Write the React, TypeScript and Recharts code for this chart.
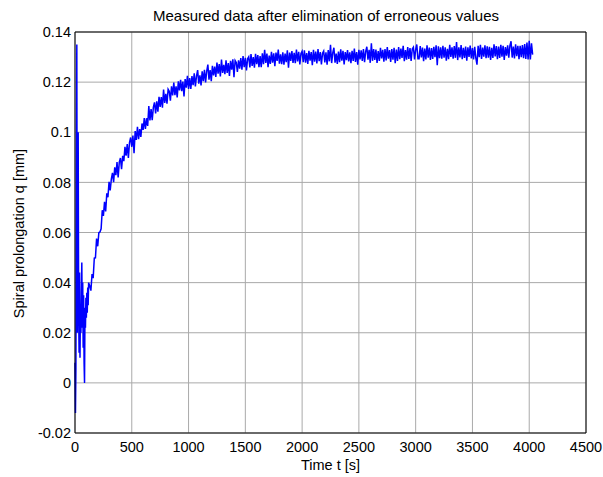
import { CartesianGrid, Line, LineChart, ReferenceLine, XAxis, YAxis } from "recharts"

// Sampling of the measured signal
const START_STEP = 4 // s, first 120 s (disturbed start)
const MAIN_START = 130 // s
const MAIN_STEP = 10 // s

// q [mm] for t = 0, 4, ..., 120 s
const startSamples = [
  0.008, -0.012, 0.006, 0.09, 0.135, 0.02, 0.06, 0.1, 0.03, 0.012, 0.044, 0.01, 0.03, 0.02, 0.036, 0.048,
  0.022, 0.04, 0.014, 0.035, 0.008, 0.0, 0.03, 0.022, 0.034, 0.026, 0.036, 0.028, 0.038, 0.031, 0.04,
]

// q [mm] for t = 130, 140, ..., 4030 s (one row = 100 s)
const mainSamples = [
  0.0387, 0.0368, 0.0434, 0.0418, 0.0498, 0.0499, 0.0576, 0.0545, 0.0599, 0.0602,
  0.0615, 0.0689, 0.0666, 0.0722, 0.0684, 0.0756, 0.0741, 0.0802, 0.0768, 0.0813,
  0.0838, 0.0801, 0.086, 0.0829, 0.0881, 0.082, 0.0881, 0.0897, 0.0853, 0.0906,
  0.0885, 0.0942, 0.0907, 0.0953, 0.0897, 0.0959, 0.0979, 0.0942, 0.0987, 0.0916,
  0.1005, 0.0969, 0.1022, 0.0972, 0.1013, 0.0981, 0.1035, 0.1009, 0.1057, 0.1013,
  0.1056, 0.1025, 0.1105, 0.1047, 0.1092, 0.1048, 0.1099, 0.1119, 0.1075, 0.1123,
  0.1082, 0.1141, 0.1101, 0.114, 0.1098, 0.117, 0.1117, 0.1153, 0.1114, 0.1172,
  0.1164, 0.1126, 0.1183, 0.1147, 0.1198, 0.1148, 0.1183, 0.1139, 0.1203, 0.1167,
  0.1209, 0.1164, 0.1202, 0.1143, 0.1212, 0.1178, 0.1225, 0.1173, 0.1216, 0.1173,
  0.1224, 0.1188, 0.1235, 0.1183, 0.1224, 0.1248, 0.1194, 0.1227, 0.1187, 0.1243,
  0.1204, 0.1249, 0.1199, 0.1244, 0.127, 0.121, 0.1248, 0.1204, 0.1265, 0.1227,
  0.1262, 0.1221, 0.1278, 0.1234, 0.1272, 0.1223, 0.129, 0.1237, 0.1269, 0.1232,
  0.1287, 0.1237, 0.1276, 0.1225, 0.1285, 0.125, 0.1291, 0.122, 0.1286, 0.1278,
  0.1241, 0.1287, 0.1254, 0.1296, 0.125, 0.1304, 0.126, 0.1297, 0.1247, 0.1293,
  0.1301, 0.1259, 0.1312, 0.1265, 0.13, 0.1258, 0.1313, 0.1272, 0.1308, 0.126,
  0.1304, 0.126, 0.1315, 0.1272, 0.1329, 0.1277, 0.1314, 0.126, 0.1306, 0.1273,
  0.1321, 0.1278, 0.1315, 0.1264, 0.1318, 0.1285, 0.133, 0.1274, 0.1311, 0.1272,
  0.1319, 0.127, 0.1314, 0.128, 0.1327, 0.1258, 0.1318, 0.1285, 0.1324, 0.1277,
  0.1317, 0.1276, 0.133, 0.1283, 0.1321, 0.1271, 0.1314, 0.1323, 0.128, 0.1327,
  0.1278, 0.1316, 0.1273, 0.1325, 0.1286, 0.132, 0.1268, 0.1329, 0.1282, 0.1322,
  0.1275, 0.1332, 0.1284, 0.132, 0.1271, 0.1315, 0.1324, 0.1279, 0.1319, 0.127,
  0.1328, 0.1283, 0.1349, 0.1276, 0.1317, 0.1337, 0.1278, 0.1314, 0.1273, 0.1322,
  0.128, 0.1331, 0.1286, 0.1325, 0.1271, 0.132, 0.1288, 0.1328, 0.1283, 0.1319,
  0.1276, 0.1325, 0.1285, 0.1334, 0.1281, 0.132, 0.127, 0.1329, 0.1291, 0.1327,
  0.1285, 0.1332, 0.128, 0.1323, 0.1341, 0.129, 0.1329, 0.1277, 0.1355, 0.1285,
  0.1332, 0.1289, 0.133, 0.1277, 0.1324, 0.1285, 0.1337, 0.1295, 0.1329, 0.1282,
  0.1332, 0.1287, 0.134, 0.1294, 0.1328, 0.1281, 0.1332, 0.129, 0.1337, 0.1276,
  0.133, 0.1285, 0.134, 0.1292, 0.1334, 0.1297, 0.1345, 0.1284, 0.1328, 0.129,
  0.134, 0.1293, 0.1336, 0.1285, 0.1332, 0.1339, 0.1291, 0.133, 0.135, 0.1293,
  0.1293, 0.1344, 0.1299, 0.1338, 0.1284, 0.1334, 0.1291, 0.1347, 0.1298, 0.1338,
  0.1289, 0.1336, 0.1293, 0.1341, 0.13, 0.1347, 0.1268, 0.1343, 0.1296, 0.1339,
  0.1294, 0.1345, 0.1298, 0.1339, 0.1286, 0.1333, 0.1292, 0.1349, 0.1301, 0.1339,
  0.1294, 0.1344, 0.1297, 0.136, 0.1288, 0.1339, 0.1299, 0.1348, 0.1292, 0.1337,
  0.1297, 0.1342, 0.1286, 0.1339, 0.1301, 0.1346, 0.1295, 0.1336, 0.1291, 0.1341,
  0.1296, 0.127, 0.1345, 0.13, 0.1349, 0.1293, 0.1338, 0.1302, 0.1347, 0.1296,
  0.1343, 0.1298, 0.1341, 0.1289, 0.1337, 0.1297, 0.1351, 0.1303, 0.1344, 0.1292,
  0.1342, 0.1297, 0.1349, 0.1302, 0.1345, 0.1289, 0.134, 0.1306, 0.1347, 0.1298,
  0.1346, 0.1363, 0.1298, 0.1342, 0.1295, 0.1351, 0.1304, 0.1345, 0.1292, 0.1345,
  0.13, 0.1348, 0.1296, 0.1352, 0.1292, 0.1358, 0.129, 0.1365, 0.129, 0.1355, 0.131,
]

const xTicks = [0, 500, 1000, 1500, 2000, 2500, 3000, 3500, 4000, 4500]
const yTicks = [-0.02, 0, 0.02, 0.04, 0.06, 0.08, 0.1, 0.12, 0.14]

const title = "Measured data after elimination of erroneous values"
const xLabel = "Time t [s]"
const yLabel = "Spiral prolongation q [mm]"

const points = [
  ...startSamples.map((q, i) => ({ t: i * START_STEP, q })),
  ...mainSamples.map((q, i) => ({ t: MAIN_START + i * MAIN_STEP, q })),
]

const font = "'Liberation Sans', Arial, sans-serif"
const tickStyle = { fontSize: 14.5, fill: "#000", fontFamily: font }

export default function App() {
  return (
    <div
      style={{
        position: "absolute",
        left: 0,
        top: 0,
        width: 603,
        height: 477,
        background: "#fff",
        fontFamily: font,
        color: "#000",
      }}
    >
      <LineChart width={603} height={477} data={points} margin={{ top: 32, right: 17, bottom: 14, left: 0 }}>
        <CartesianGrid stroke="#a9a9a9" strokeWidth={1} />
        <XAxis
          dataKey="t"
          type="number"
          domain={[0, 4500]}
          ticks={xTicks}
          height={30}
          tickLine={false}
          tickSize={6}
          tickMargin={3}
          stroke="#000"
          tick={tickStyle}
          interval={0}
        />
        <YAxis
          type="number"
          domain={[-0.02, 0.14]}
          ticks={yTicks}
          width={75}
          tickLine={false}
          tickSize={3}
          tickMargin={1}
          stroke="#000"
          tick={tickStyle}
          interval={0}
          tickFormatter={(v: number) => String(Number(v.toFixed(2)))}
        />
        <ReferenceLine y={0.14} stroke="#000" />
        <ReferenceLine x={4500} stroke="#000" />
        <Line dataKey="q" stroke="#0000ff" strokeWidth={1.5} dot={false} isAnimationActive={false} />
      </LineChart>

      <div style={{ position: "absolute", left: 66, top: 7, width: 520, textAlign: "center", fontSize: 15, lineHeight: "17px" }}>
        {title}
      </div>
      <div style={{ position: "absolute", left: 75, top: 457, width: 511, textAlign: "center", fontSize: 14.5, lineHeight: "17px" }}>
        {xLabel}
      </div>
      <div
        style={{
          position: "absolute",
          left: 19 - 150,
          top: 233 - 8.5,
          width: 300,
          height: 17,
          textAlign: "center",
          fontSize: 14.5,
          lineHeight: "17px",
          transform: "rotate(-90deg)",
        }}
      >
        {yLabel}
      </div>
    </div>
  )
}
